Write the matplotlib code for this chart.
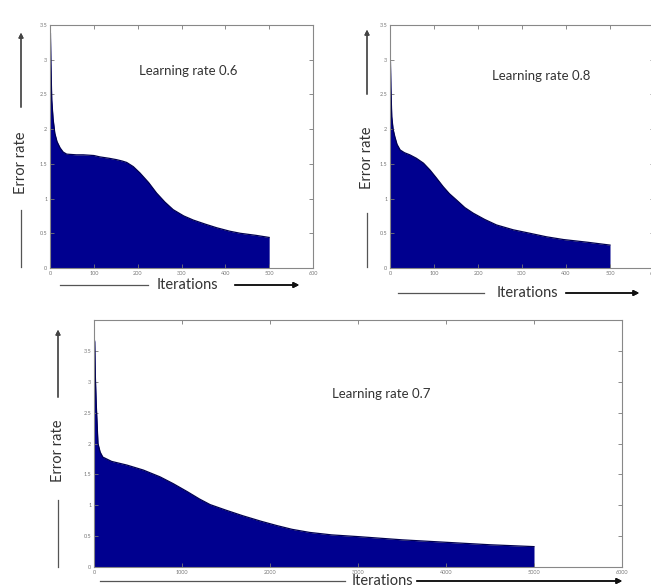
import numpy as np
import matplotlib.pyplot as plt
from matplotlib.lines import Line2D

plt.rcParams['font.family'] = ['Lato', 'DejaVu Sans']

# error rate curves
it_06 = [0, 1, 2, 4, 7, 11, 16, 23, 30, 38, 60, 76, 100, 114, 135, 152, 165, 175,
         190, 205, 225, 243, 262, 281, 305, 327, 355, 380, 410, 434, 470, 500]
err_06 = [3.43, 3.38, 2.95, 2.42, 2.15, 1.94, 1.82, 1.73, 1.67, 1.64, 1.63, 1.63,
          1.62, 1.60, 1.58, 1.56, 1.54, 1.52, 1.46, 1.37, 1.23, 1.08, 0.95, 0.84,
          0.75, 0.69, 0.63, 0.58, 0.53, 0.50, 0.47, 0.44]

it_08 = [0, 1, 2, 4, 7, 11, 16, 23, 33, 45, 60, 76, 91, 105, 121, 135, 151, 170,
         189, 215, 242, 280, 318, 355, 394, 450, 500]
err_08 = [3.0, 2.97, 2.6, 2.18, 2.0, 1.89, 1.78, 1.70, 1.66, 1.63, 1.58, 1.51,
          1.41, 1.30, 1.17, 1.07, 0.98, 0.87, 0.79, 0.70, 0.62, 0.55, 0.50, 0.45,
          0.41, 0.37, 0.33]

it_07 = [0, 8, 15, 25, 45, 70, 100, 200, 375, 560, 750, 900, 1060, 1200, 1320,
         1500, 1690, 1900, 2080, 2250, 2450, 2700, 3020, 3500, 4000, 4500, 5000]
err_07 = [3.71, 3.65, 3.1, 2.65, 2.0, 1.86, 1.78, 1.71, 1.65, 1.57, 1.46, 1.35,
          1.22, 1.10, 1.01, 0.92, 0.83, 0.74, 0.67, 0.61, 0.56, 0.52, 0.49, 0.44,
          0.40, 0.36, 0.33]

titles = ['Learning rate 0.6', 'Learning rate 0.8', 'Learning rate 0.7']
small_xticks = [0, 100, 200, 300, 400, 500, 600]
big_xticks = [0, 1000, 2000, 3000, 4000, 5000, 6000]
yticks = [0, 0.5, 1, 1.5, 2, 2.5, 3, 3.5]

W, H = 651, 588
navy = '#00008f'
fig = plt.figure(figsize=(W / 100, H / 100), dpi=100)


def px(x, y):
    return (x / W, 1 - y / H)


def box(l, t, r, b):
    return [l / W, 1 - b / H, (r - l) / W, (b - t) / H]


def style(ax, xt, xmax, ymax):
    ax.set_xlim(0, xmax)
    ax.set_ylim(0, ymax)
    ax.set_xticks(xt)
    ax.set_xticklabels([str(v) for v in xt])
    yt = yticks + ([4] if ymax > 3.5 else [])
    ax.set_yticks(yt)
    ax.set_yticklabels([('%g' % v) if v <= 3.5 else '' for v in yt])
    ax.tick_params(direction='in', top=True, right=True, length=3,
                   width=0.6, color='#777777', labelsize=4,
                   labelcolor='#777777', pad=2)
    for s in ax.spines.values():
        s.set_color('#888888')
        s.set_linewidth(0.8)


panels = [
    (box(50, 25, 313, 268), it_06, err_06, titles[0], small_xticks, 600, 3.5, (0.34, 0.81)),
    (box(390, 25, 654, 268), it_08, err_08, titles[1], small_xticks, 600, 3.5, (0.385, 0.79)),
    (box(94, 320, 622, 567), it_07, err_07, titles[2], big_xticks, 6000, 4.0, (0.45, 0.70)),
]

for rect, xs, ys, title, xt, xmax, ymax, tpos in panels:
    ax = fig.add_axes(rect)
    ax.fill_between(xs, ys, 0, color=navy, lw=0)
    ax.plot(xs, ys, color='#000050', lw=0.9)
    style(ax, xt, xmax, ymax)
    ax.text(tpos[0], tpos[1], title, transform=ax.transAxes, fontsize=9.5,
            color='#333333', ha='left', va='center')


def guide_v(x, y_top, y_txt, y_bot, gap_top, gap_bot):
    # "Error rate" with a plain line below and an arrow above
    fig.text(*px(x, y_txt), 'Error rate', rotation=90, ha='center',
             va='center', fontsize=10.5, color='#333333')
    fig.add_artist(Line2D(*zip(px(x, y_bot), px(x, gap_bot)),
                          color='#555555', lw=0.9))
    fig.add_artist(plt.annotate('', xy=px(x, y_top), xytext=px(x, gap_top),
                                xycoords='figure fraction',
                                arrowprops=dict(arrowstyle='-|>', color='#444444',
                                                lw=0.9, mutation_scale=7)))


def guide_h(y, x_left, x_l_end, x_txt, x_a_start, x_right):
    fig.text(*px(x_txt, y), 'Iterations', ha='center', va='center',
             fontsize=10.5, color='#333333')
    fig.add_artist(Line2D(*zip(px(x_left, y), px(x_l_end, y)),
                          color='#555555', lw=0.9))
    fig.add_artist(plt.annotate('', xy=px(x_right, y), xytext=px(x_a_start, y),
                                xycoords='figure fraction',
                                arrowprops=dict(arrowstyle='-|>', color='#111111',
                                                lw=1.1, mutation_scale=8)))


guide_v(21, 30, 163, 267, 110, 210)
guide_v(367, 27, 158, 267, 97, 213)
guide_v(58, 327, 451, 567, 400, 500)

guide_h(285, 60, 148, 187, 232, 302)
guide_h(293, 398, 484, 527, 563, 642)
guide_h(581, 100, 345, 382, 414, 625)

fig.savefig('out.png', dpi=100)
